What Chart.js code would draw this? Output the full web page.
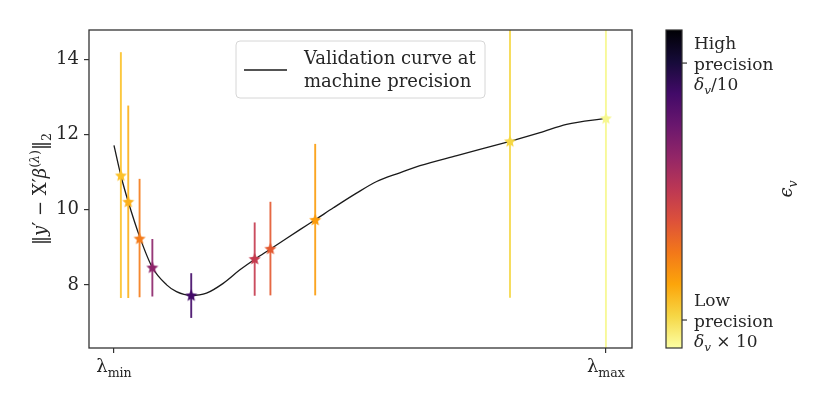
<!DOCTYPE html>
<html>
<head>
<meta charset="utf-8">
<script src="https://cdn.jsdelivr.net/npm/chart.js@4.4.1/dist/chart.umd.min.js"></script>
<style>
  html, body { margin: 0; padding: 0; background: #fff; }
  #wrap { width: 830px; height: 406px; }
</style>
</head>
<body>
<div id="wrap"><canvas id="validationChart"></canvas></div>
<script>
// Validation curve (lambda grid, 0 = lambda_min, 100 = lambda_max)
const curveX = [0, 1.4, 2.9, 5.3, 7.8, 10.7, 12.7, 15.6, 18.8, 22.2, 25.6, 28.7, 31.9, 37.8, 40.9, 44.6, 49.3, 53.4, 58.1, 62.2, 69.7, 80.5, 86.6, 92.0, 100];
const curveY = [11.71, 10.91, 10.21, 9.25, 8.46, 8.0, 7.82, 7.72, 7.78, 8.04, 8.4, 8.69, 8.96, 9.47, 9.73, 10.05, 10.44, 10.75, 10.98, 11.17, 11.44, 11.82, 12.05, 12.27, 12.43];

// Noisy validation points and their error bars
const starX = [1.4, 2.9, 5.2, 7.8, 15.7, 28.6, 31.8, 40.9, 80.5, 100];
const starY = [10.91, 10.21, 9.23, 8.46, 7.72, 8.69, 8.96, 9.73, 11.82, 12.43];
const errLow = [7.65, 7.65, 7.67, 7.69, 7.12, 7.71, 7.72, 7.72, 7.66, 6.0];
const errHigh = [14.19, 12.77, 10.82, 9.22, 8.31, 9.66, 10.21, 11.75, 16.0, 18.9];
const starColors = ['#fcc229', '#fbb01a', '#f47b1a', '#8c2369', '#420a68', '#c43a4e', '#e3582f', '#fb9b0a', '#f5d745', '#f6f78e'];

const yTicks = [8, 10, 12, 14];
const xTicks = [0, 100];
const xTickLabels = [['λ', 'min'], ['λ', 'max']];
const legendLines = ['Validation curve at', 'machine precision'];

// colorbar: 0 = top (dark), 1 = bottom (light)
const cbarTicks = [0.104, 0.912];
const cbarLabels = [
  [[{t: 'High'}], [{t: 'precision'}], [{t: 'δ', it: true}, {t: 'v', sub: true, it: true}, {t: '/10'}]],
  [[{t: 'Low'}], [{t: 'precision'}], [{t: 'δ', it: true}, {t: 'v', sub: true, it: true}, {t: ' × 10'}]]
];
const inferno = ['#000004', '#160b39', '#420a68', '#6a176e', '#932667', '#bc3754', '#dd513a', '#f37819', '#fca50a', '#f6d746', '#fcffa4'];

const FONT = '"DejaVu Serif", serif';
const FS = 17;
const TXT = '#262626';

function makeStar(color) {
  const c = document.createElement('canvas');
  c.width = 14; c.height = 14;
  const g = c.getContext('2d');
  g.beginPath();
  for (let i = 0; i < 10; i++) {
    const r = i % 2 ? 2.9 : 6.3;
    const a = -Math.PI / 2 + i * Math.PI / 5;
    const px = 7 + r * Math.cos(a), py = 7.4 + r * Math.sin(a);
    if (i === 0) g.moveTo(px, py); else g.lineTo(px, py);
  }
  g.closePath();
  g.fillStyle = color;
  g.fill();
  return c;
}

function withAlpha(hex, a) {
  const n = parseInt(hex.slice(1), 16);
  return `rgba(${n >> 16}, ${(n >> 8) & 255}, ${n & 255}, ${a})`;
}

// draw text made of parts: {t, sub, sup, it}
function partFont(p, size) {
  const s = (p.sub || p.sup) ? size * 0.7 : size;
  return (p.it ? 'italic ' : '') + s + 'px ' + FONT;
}
function richWidth(ctx, parts, size) {
  let w = 0;
  parts.forEach(p => { ctx.font = partFont(p, size); w += ctx.measureText(p.t).width; });
  return w;
}
function drawRich(ctx, parts, x, y, size, align) {
  let cx = x;
  const w = richWidth(ctx, parts, size);
  if (align === 'center') cx = x - w / 2;
  if (align === 'right') cx = x - w;
  ctx.textAlign = 'left';
  ctx.textBaseline = 'alphabetic';
  parts.forEach(p => {
    ctx.font = partFont(p, size);
    let dy = 0;
    if (p.sub) dy = size * 0.25;
    if (p.sup) dy = -size * 0.4;
    ctx.fillText(p.t, cx, y + dy);
    cx += ctx.measureText(p.t).width;
  });
}

const decorPlugin = {
  id: 'decor',
  afterDatasetsDraw(chart) {
    const ctx = chart.ctx;
    const a = chart.chartArea;
    const xs = chart.scales.x;

    ctx.save();
    // frame
    ctx.strokeStyle = '#333';
    ctx.lineWidth = 1.3;
    ctx.strokeRect(a.left, a.top, a.right - a.left, a.bottom - a.top);

    // legend
    const lx = a.left + 147, ly = a.top + 11, lw = 249, lh = 57;
    ctx.fillStyle = 'rgba(255,255,255,0.85)';
    ctx.strokeStyle = '#d6d6d6';
    ctx.lineWidth = 1;
    ctx.beginPath();
    ctx.roundRect(lx, ly, lw, lh, 4);
    ctx.fill();
    ctx.stroke();
    const curveDs = chart.data.datasets[chart.data.datasets.length - 1];
    ctx.strokeStyle = curveDs.borderColor;
    ctx.lineWidth = 1.3;
    ctx.beginPath();
    ctx.moveTo(lx + 8, ly + 29);
    ctx.lineTo(lx + 51, ly + 29);
    ctx.stroke();
    ctx.fillStyle = TXT;
    legendLines.forEach((s, i) => drawRich(ctx, [{t: s}], lx + 68, ly + 23 + i * 23, FS + 1, 'left'));

    // x tick labels
    ctx.fillStyle = TXT;
    xTicks.forEach((v, i) => {
      const lab = xTickLabels[i];
      drawRich(ctx, [{t: lab[0]}, {t: lab[1], sub: true}], xs.getPixelForValue(v), a.bottom + 24, FS + 1, 'center');
    });

    // y axis title
    ctx.save();
    ctx.translate(40, (a.top + a.bottom) / 2);
    ctx.rotate(-Math.PI / 2);
    drawRich(ctx, [
      {t: '‖'}, {t: 'y', it: true}, {t: '′ − X′'}, {t: 'β', it: true},
      {t: '(', sup: true}, {t: 'λ', sup: true, it: true}, {t: ')', sup: true},
      {t: '‖'}, {t: '2', sub: true}
    ], 0, 6, FS + 1, 'center');
    ctx.restore();

    // colorbar
    const cbL = 666, cbR = 682, cbT = a.top, cbB = a.bottom;
    const grad = ctx.createLinearGradient(0, cbT, 0, cbB);
    inferno.forEach((c, i) => grad.addColorStop(i / (inferno.length - 1), c));
    ctx.fillStyle = grad;
    ctx.fillRect(cbL, cbT, cbR - cbL, cbB - cbT);
    ctx.strokeStyle = '#333';
    ctx.lineWidth = 1.2;
    ctx.strokeRect(cbL, cbT, cbR - cbL, cbB - cbT);
    cbarTicks.forEach((t, i) => {
      const py = cbT + t * (cbB - cbT);
      ctx.beginPath();
      ctx.moveTo(cbR, py);
      ctx.lineTo(cbR + 5, py);
      ctx.stroke();
      ctx.fillStyle = TXT;
      cbarLabels[i].forEach((line, j) => drawRich(ctx, line, cbR + 12, py + 6.5 + (j - 1) * 20.5, FS, 'left'));
    });

    // colorbar label
    ctx.save();
    ctx.translate(792, (a.top + a.bottom) / 2);
    ctx.rotate(-Math.PI / 2);
    ctx.fillStyle = TXT;
    drawRich(ctx, [{t: 'ϵ', it: true}, {t: 'v', sub: true, it: true}], 0, 0, FS + 1, 'center');
    ctx.restore();

    ctx.restore();
  }
};

const datasets = [];
// stars on top
datasets.push({
  label: 'points',
  data: starX.map((x, i) => ({x: x, y: starY[i]})),
  showLine: false,
  pointStyle: starColors.map(makeStar),
  pointRadius: 7,
  order: 0
});
// error bars
starX.forEach((x, i) => {
  datasets.push({
    label: 'err' + i,
    data: [{x: x, y: errLow[i]}, {x: x, y: errHigh[i]}],
    borderColor: withAlpha(starColors[i], 0.9),
    borderWidth: 1.9,
    pointRadius: 0,
    order: 1
  });
});
// validation curve
datasets.push({
  label: legendLines.join(' '),
  data: curveX.map((x, i) => ({x: x, y: curveY[i]})),
  borderColor: '#1a1a1a',
  borderWidth: 1.3,
  pointRadius: 0,
  cubicInterpolationMode: 'monotone',
  order: 2
});

new Chart(document.getElementById('validationChart').getContext('2d'), {
  type: 'line',
  data: {datasets: datasets},
  options: {
    responsive: true,
    maintainAspectRatio: false,
    animation: false,
    layout: {padding: {top: 30, right: 198, bottom: 0, left: 0}},
    plugins: {legend: {display: false}, tooltip: {enabled: false}},
    scales: {
      x: {
        type: 'linear',
        min: -5.08,
        max: 105.3,
        border: {display: false},
        grid: {drawOnChartArea: false, drawTicks: true, tickLength: 5, color: '#333', lineWidth: 1.2},
        afterBuildTicks: s => { s.ticks = xTicks.map(v => ({value: v})); },
        afterFit: s => { s.height = 58; },
        ticks: {autoSkip: false, callback: () => ''}
      },
      y: {
        type: 'linear',
        min: 6.32,
        max: 14.78,
        border: {display: false},
        grid: {drawOnChartArea: false, drawTicks: true, tickLength: 5, color: '#333', lineWidth: 1.2},
        afterBuildTicks: s => { s.ticks = yTicks.map(v => ({value: v})); },
        afterFit: s => { s.width = 89; },
        ticks: {font: {family: FONT, size: FS + 1}, color: TXT, padding: 5}
      }
    }
  },
  plugins: [decorPlugin]
});
</script>
</body>
</html>
